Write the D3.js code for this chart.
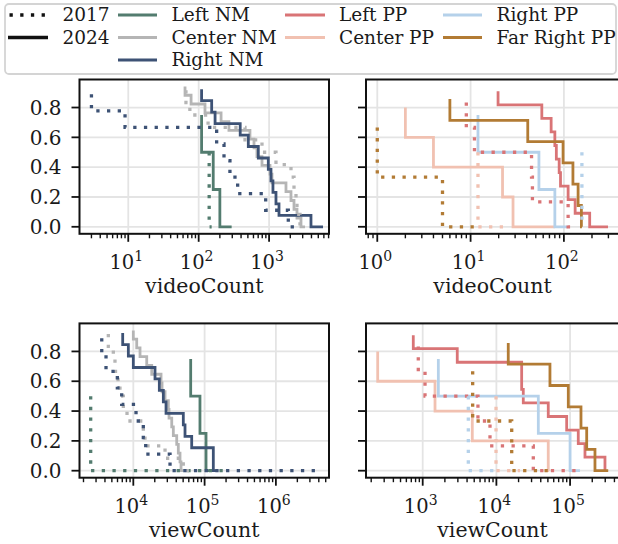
<!DOCTYPE html>
<html>
<head>
<meta charset="utf-8">
<script src="https://cdn.jsdelivr.net/npm/d3@7"></script>
<style>
  body { margin: 0; background: #fff; }
  text { font-family: "DejaVu Serif", serif; fill: #1a1a1a; }
</style>
</head>
<body>
<div id="chart"></div>
<script>
// ---- groups / colours ----
const nmGroups = ["Left NM", "Center NM", "Right NM"]
const ppGroups = ["Left PP", "Center PP", "Right PP", "Far Right PP"]
const groupColors = ["#537c6f", "#b5b5b5", "#3d5275", "#d97476", "#f1c1b1", "#b5d1ea", "#b27b34"]
const years = ["2017", "2024"]

// ---- videoCount, news media ----
const leftNM_video_2017 = [141, 153]
const leftNM_video_2024 = [110, 161, 200, 294]
const centerNM_video_2017 = [66, 75, 136, 455, 793, 1253, 2047, 2259, 2412, 2491, 2748, 3133]
const centerNM_video_2024 = [64, 78, 123, 208, 269, 535, 611, 673, 793, 1030, 1100, 1738, 2047, 2259, 2491, 2838, 3236]
const rightNM_video_2017 = [3, 9, 180, 229, 278, 358, 895, 1875, 2750]
const rightNM_video_2024 = [110, 153, 171, 389, 507, 703, 975, 1064, 1135, 1253, 1383, 3936, 5836]

// ---- videoCount, political parties ----
const leftPP_video_2017 = [9, 11, 45, 46, 111, 131]
const leftPP_video_2024 = [19.7, 58, 73, 80, 83, 89, 92, 111, 132, 189, 297]
const centerPP_video_2017 = [12, 26]
const centerPP_video_2024 = [2, 4, 22, 28.5, 80]
const rightPP_video_2017 = [156, 157]
const rightPP_video_2024 = [12, 54, 80, 111]
const farRightPP_video_2017 = [1, 5, 11]
const farRightPP_video_2024 = [6, 41, 98, 125, 142, 154, 156]

// ---- viewCount, news media ----
const leftNM_view_2017 = [2523, 227000]
const leftNM_view_2024 = [63800, 86100, 104700, 131000]
const centerNM_view_2017 = [4460, 5240, 5530, 6100, 6500, 7240, 8160, 13810, 14580, 27860, 50230, 65910]
const centerNM_view_2024 = [10000, 11160, 12420, 15420, 18130, 24480, 25280, 27860, 30980, 31690, 34590, 36410, 40630, 42780, 45190, 46690, 49780]
const rightNM_view_2017 = [3607, 4140, 5970, 6870, 10910, 13810, 14920, 32730, 4390000]
const rightNM_view_2024 = [7096, 8517, 10000, 20150, 23170, 26370, 28770, 50270, 53110, 65910, 132500, 132500, 144500]

// ---- viewCount, political parties ----
const leftPP_view_2017 = [871, 1075, 5620, 8190, 31690, 149600]
const leftPP_view_2024 = [745, 2944, 22030, 22030, 23170, 50580, 89910, 129200, 159300, 297600, 307300]
const centerPP_view_2017 = [9886, 20890]
const centerPP_view_2024 = [245, 1469, 4710, 50560, 51760]
const rightPP_view_2017 = [4159, 9570]
const rightPP_view_2024 = [1630, 37070, 100000, 136200]
const farRightPP_view_2017 = [4767, 16140, 62370]
const farRightPP_view_2024 = [14490, 53330, 94610, 140600, 168100, 217700, 329400]

const yTicks = [0, 0.2, 0.4, 0.6, 0.8]

const width = 618, height = 544

// series tables built from the arrays above
function mk(groups, colorOffset, arrs) {
    const out = []
    // 2024 first, dotted 2017 drawn on top
    years.slice().reverse().forEach(yr => {
        groups.forEach((g, i) => {
            out.push({group: g, year: yr, color: groupColors[colorOffset + i], values: arrs[g][yr]})
        })
    })
    return out
}

const panels = [
    {x0: 79.5, x1: 329, y0: 79.5, y1: 233.8, domain: [2.03, 7096], label: "videoCount", showY: true,
     series: mk(nmGroups, 0, {
        "Left NM": {"2017": leftNM_video_2017, "2024": leftNM_video_2024},
        "Center NM": {"2017": centerNM_video_2017, "2024": centerNM_video_2024},
        "Right NM": {"2017": rightNM_video_2017, "2024": rightNM_video_2024}})},
    {x0: 366, x1: 619, y0: 79.5, y1: 233.8, domain: [0.757, 389.6], label: "videoCount", showY: false,
     series: mk(ppGroups, 3, {
        "Left PP": {"2017": leftPP_video_2017, "2024": leftPP_video_2024},
        "Center PP": {"2017": centerPP_video_2017, "2024": centerPP_video_2024},
        "Right PP": {"2017": rightPP_video_2017, "2024": rightPP_video_2024},
        "Far Right PP": {"2017": farRightPP_video_2017, "2024": farRightPP_video_2024}})},
    {x0: 79.5, x1: 329, y0: 323.4, y1: 477.7, domain: [1758, 5.56e6], label: "viewCount", showY: true,
     series: mk(nmGroups, 0, {
        "Left NM": {"2017": leftNM_view_2017, "2024": leftNM_view_2024},
        "Center NM": {"2017": centerNM_view_2017, "2024": centerNM_view_2024},
        "Right NM": {"2017": rightNM_view_2017, "2024": rightNM_view_2024}})},
    {x0: 366, x1: 619, y0: 323.4, y1: 477.7, domain: [170, 461300], label: "viewCount", showY: false,
     series: mk(ppGroups, 3, {
        "Left PP": {"2017": leftPP_view_2017, "2024": leftPP_view_2024},
        "Center PP": {"2017": centerPP_view_2017, "2024": centerPP_view_2024},
        "Right PP": {"2017": rightPP_view_2017, "2024": rightPP_view_2024},
        "Far Right PP": {"2017": farRightPP_view_2017, "2024": farRightPP_view_2024}})}
]

const svg = d3.select("#chart").append("svg")
    .attr("width", width)
    .attr("height", height)
svg.append("rect").attr("width", width).attr("height", height).attr("fill", "#fff")

const supers = {"0": "\u2070", "1": "\u00b9", "2": "\u00b2", "3": "\u00b3", "4": "\u2074", "5": "\u2075", "6": "\u2076"}

panels.forEach((p, pi) => {
    const xScale = d3.scaleLog().domain(p.domain).range([p.x0, p.x1])
    const yScale = d3.scaleLinear().domain([-0.047, 0.988]).range([p.y1, p.y0])
    const g = svg.append("g")

    const lo = Math.log10(p.domain[0]), hi = Math.log10(p.domain[1])
    const major = d3.range(Math.ceil(lo), Math.floor(hi) + 1)
    const minor = []
    d3.range(Math.floor(lo), Math.floor(hi) + 1).forEach(e => {
        for (let k = 2; k <= 9; k++) {
            const v = k * Math.pow(10, e)
            if (v >= p.domain[0] && v <= p.domain[1]) minor.push(v)
        }
    })

    // grid
    g.selectAll(".vgrid").data(major).enter().append("line")
        .attr("x1", e => xScale(Math.pow(10, e))).attr("x2", e => xScale(Math.pow(10, e)))
        .attr("y1", p.y0).attr("y2", p.y1)
        .attr("stroke", "#e4e4e4").attr("stroke-width", 1.8)
    g.selectAll(".hgrid").data(yTicks).enter().append("line")
        .attr("x1", p.x0).attr("x2", p.x1)
        .attr("y1", d => yScale(d)).attr("y2", d => yScale(d))
        .attr("stroke", "#e4e4e4").attr("stroke-width", 1.8)

    // step lines (complementary ecdf)
    const clipId = "clip" + pi
    svg.append("clipPath").attr("id", clipId).append("rect")
        .attr("x", p.x0).attr("y", p.y0).attr("width", p.x1 - p.x0).attr("height", p.y1 - p.y0)
    const line = d3.line()
        .x(d => xScale(d[0]))
        .y(d => yScale(d[1]))
        .curve(d3.curveStepBefore)
    p.series.forEach(s => {
        const vals = s.values.slice().sort((a, b) => a - b)
        const n = vals.length
        const pts = vals.map((v, i) => [v, 1 - (i + 1) / n])
        g.append("path")
            .attr("clip-path", `url(#${clipId})`)
            .attr("d", line(pts))
            .attr("fill", "none")
            .attr("stroke", s.color)
            .attr("stroke-width", s.year === "2017" ? 3.3 : 2.8)
            .attr("stroke-dasharray", s.year === "2017" ? "3.3 7.4" : null)
    })

    // spines
    g.append("rect")
        .attr("x", p.x0).attr("y", p.y0)
        .attr("width", p.x1 - p.x0).attr("height", p.y1 - p.y0)
        .attr("fill", "none").attr("stroke", "#111").attr("stroke-width", 2)

    // x ticks
    g.selectAll(".xmaj").data(major).enter().append("line")
        .attr("x1", e => xScale(Math.pow(10, e))).attr("x2", e => xScale(Math.pow(10, e)))
        .attr("y1", p.y1).attr("y2", p.y1 + 8)
        .attr("stroke", "#111").attr("stroke-width", 1.8)
    g.selectAll(".xmin").data(minor).enter().append("line")
        .attr("x1", d => xScale(d)).attr("x2", d => xScale(d))
        .attr("y1", p.y1).attr("y2", p.y1 + 4.5)
        .attr("stroke", "#111").attr("stroke-width", 1.4)
    const xl = g.selectAll(".xlab").data(major).enter().append("text")
        .attr("x", e => xScale(Math.pow(10, e)) - 2)
        .attr("y", p.y1 + 35.5)
        .attr("text-anchor", "middle")
        .attr("font-size", 19.5)
    xl.append("tspan").text("10")
    xl.append("tspan").attr("dy", -8.5).attr("font-size", 14).text(e => String(e))

    g.append("text")
        .attr("x", (p.x0 + p.x1) / 2)
        .attr("y", p.y1 + 59.5)
        .attr("text-anchor", "middle")
        .attr("font-size", 20.5)
        .text(p.label)

    // y ticks
    g.selectAll(".ytick").data(yTicks).enter().append("line")
        .attr("x1", p.x0 - 8).attr("x2", p.x0)
        .attr("y1", d => yScale(d)).attr("y2", d => yScale(d))
        .attr("stroke", "#111").attr("stroke-width", 1.8)
    if (p.showY) {
        g.selectAll(".ylab").data(yTicks).enter().append("text")
            .attr("x", p.x0 - 18)
            .attr("y", d => yScale(d))
            .attr("dy", "0.36em")
            .attr("text-anchor", "end")
            .attr("font-size", 20)
            .text(d3.format(".1f"))
    }
})

// ---- legend ----
const legend = svg.append("g")
legend.append("rect")
    .attr("x", 5).attr("y", 4).attr("width", 611).attr("height", 70)
    .attr("rx", 4).attr("fill", "#fff")
    .attr("stroke", "#d4d4d4").attr("stroke-width", 1.8)

const rowY = [15, 37.5, 60]
const legendItems = [
    {label: "2017", color: "#111", dotted: true, col: 0, row: 0},
    {label: "2024", color: "#111", dotted: false, col: 0, row: 1}
]
nmGroups.forEach((gname, i) => legendItems.push({label: gname, color: groupColors[i], col: 1, row: i}))
ppGroups.forEach((gname, i) => legendItems.push({label: gname, color: groupColors[3 + i], col: 2 + Math.floor(i / 2), row: i % 2}))
const colX = [[8, 48, 62.5], [118, 157, 171.5], [285, 325, 339], [443, 482, 496.5]]

legendItems.forEach(it => {
    const c = colX[it.col], y = rowY[it.row]
    legend.append("line")
        .attr("x1", c[0]).attr("x2", c[1]).attr("y1", y).attr("y2", y)
        .attr("stroke", it.color)
        .attr("stroke-width", it.dotted ? 3.3 : (it.col === 0 ? 3.6 : 3))
        .attr("stroke-dasharray", it.dotted ? "3.3 7.4" : null)
        .attr("transform", it.dotted ? "translate(1.5,0)" : null)
    legend.append("text")
        .attr("x", c[2]).attr("y", y + 6.3)
        .attr("font-size", 18.5)
        .text(it.label)
})
</script>
</body>
</html>
